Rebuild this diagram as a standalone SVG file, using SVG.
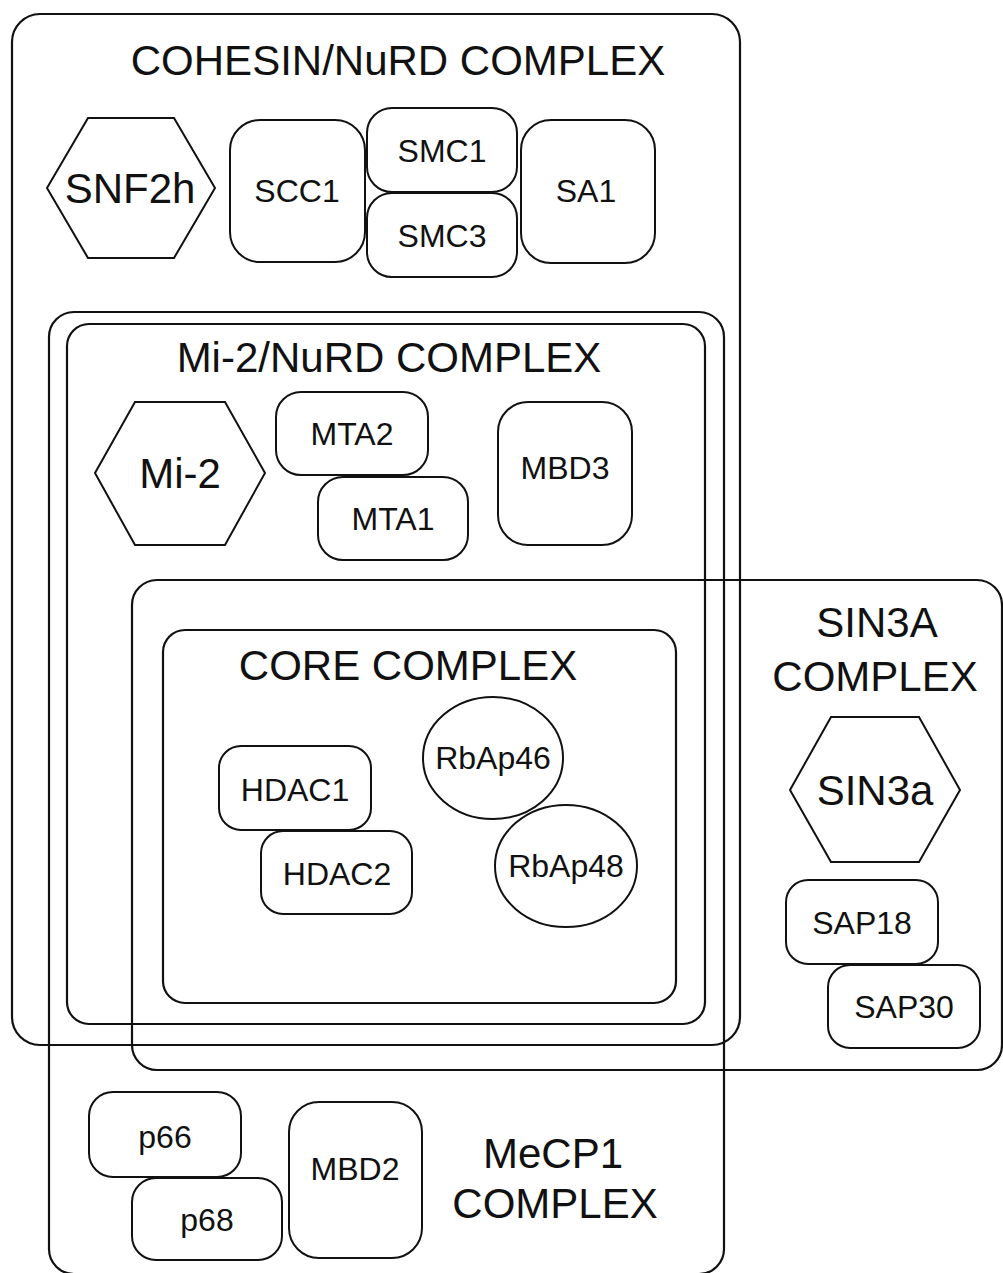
<svg xmlns="http://www.w3.org/2000/svg" width="1003" height="1273" viewBox="0 0 1003 1273">
<style>
.box{fill:none;stroke:#111;stroke-width:2.2}
.node{fill:none;stroke:#111;stroke-width:2}
.title{font-family:"Liberation Sans",Arial,sans-serif;font-size:42px;fill:#111;text-anchor:middle}
.hex{font-family:"Liberation Sans",Arial,sans-serif;font-size:42px;fill:#111;text-anchor:middle}
.lbl{font-family:"Liberation Sans",Arial,sans-serif;font-size:32px;fill:#111;text-anchor:middle}
</style>
<rect width="1003" height="1273" fill="#fff"/>
<g id="complexes">
<g id="cohesin-nurd-complex">
<rect class="box" x="12" y="14" width="728" height="1031" rx="28"/>
<text class="title" x="398" y="75">COHESIN/NuRD COMPLEX</text>
</g>
<g id="mecp1-complex">
<rect class="box" x="49" y="312" width="675" height="962" rx="25"/>
<text class="title" x="553" y="1168">MeCP1</text>
<text class="title" x="555" y="1218">COMPLEX</text>
</g>
<g id="mi2-nurd-complex">
<rect class="box" x="67" y="324" width="638" height="700" rx="22"/>
<text class="title" x="389" y="372">Mi-2/NuRD COMPLEX</text>
</g>
<g id="sin3a-complex">
<rect class="box" x="132" y="580" width="870" height="490" rx="25"/>
<text class="title" x="877" y="637">SIN3A</text>
<text class="title" x="875" y="691">COMPLEX</text>
</g>
<g id="core-complex">
<rect class="box" x="163" y="630" width="513" height="373" rx="22"/>
<text class="title" x="408" y="680">CORE COMPLEX</text>
</g>
</g>
<g id="nodes">
<g id="SNF2h"><polygon class="node" points="47,188 88,118 174,118 215,188 174,258 88,258"/><text class="hex" x="130" y="203">SNF2h</text></g>
<g id="SCC1"><rect class="node" x="230" y="120" width="135" height="142" rx="30"/><text class="lbl" x="297" y="202">SCC1</text></g>
<g id="SMC1"><rect class="node" x="367" y="108" width="150" height="84" rx="25"/><text class="lbl" x="442" y="162">SMC1</text></g>
<g id="SMC3"><rect class="node" x="367" y="193" width="150" height="84" rx="25"/><text class="lbl" x="442" y="247">SMC3</text></g>
<g id="SA1"><rect class="node" x="521" y="120" width="134" height="143" rx="30"/><text class="lbl" x="586" y="202">SA1</text></g>

<g id="Mi-2"><polygon class="node" points="95,473 135,402 225,402 265,473 225,545 135,545"/><text class="hex" x="180" y="488">Mi-2</text></g>
<g id="MTA2"><rect class="node" x="276" y="392" width="152" height="83" rx="25"/><text class="lbl" x="352" y="445">MTA2</text></g>
<g id="MTA1"><rect class="node" x="318" y="477" width="150" height="83" rx="25"/><text class="lbl" x="393" y="530">MTA1</text></g>
<g id="MBD3"><rect class="node" x="498" y="402" width="134" height="143" rx="30"/><text class="lbl" x="565" y="479">MBD3</text></g>

<g id="HDAC1"><rect class="node" x="219" y="746" width="152" height="84" rx="22"/><text class="lbl" x="295" y="801">HDAC1</text></g>
<g id="HDAC2"><rect class="node" x="261" y="831" width="151" height="83" rx="22"/><text class="lbl" x="337" y="885">HDAC2</text></g>
<g id="RbAp46"><ellipse class="node" cx="493" cy="758" rx="70" ry="61"/><text class="lbl" x="493" y="769">RbAp46</text></g>
<g id="RbAp48"><ellipse class="node" cx="566" cy="866" rx="71" ry="61"/><text class="lbl" x="566" y="877">RbAp48</text></g>

<g id="SIN3a"><polygon class="node" points="790,790 831,717 919,717 960,790 919,862 831,862"/><text class="hex" x="875" y="805">SIN3a</text></g>
<g id="SAP18"><rect class="node" x="786" y="880" width="152" height="84" rx="22"/><text class="lbl" x="862" y="934">SAP18</text></g>
<g id="SAP30"><rect class="node" x="828" y="965" width="152" height="83" rx="22"/><text class="lbl" x="904" y="1018">SAP30</text></g>

<g id="p66"><rect class="node" x="89" y="1092" width="152" height="85" rx="24"/><text class="lbl" x="165" y="1148">p66</text></g>
<g id="p68"><rect class="node" x="132" y="1178" width="150" height="82" rx="24"/><text class="lbl" x="207" y="1231">p68</text></g>
<g id="MBD2"><rect class="node" x="289" y="1102" width="133" height="156" rx="30"/><text class="lbl" x="355" y="1180">MBD2</text></g>
</g>
<g id="connectors"></g>
</svg>
